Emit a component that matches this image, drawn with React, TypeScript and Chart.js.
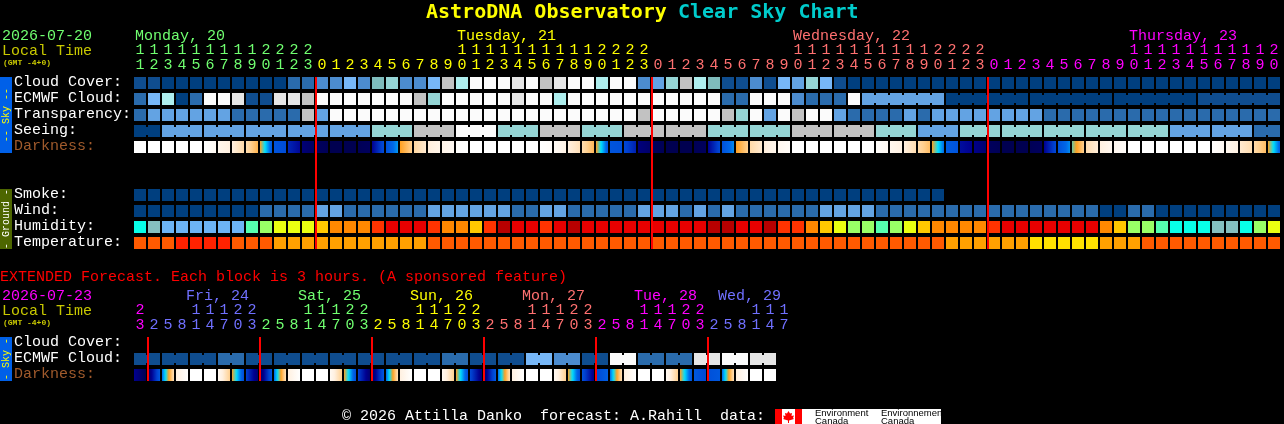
import { useEffect, useRef } from "react";
import { Chart, registerables } from "chart.js";

Chart.register(...registerables);

const hours = [
  11, 12, 13, 14, 15, 16, 17, 18, 19, 20, 21, 22, 23,
  0, 1, 2, 3, 4, 5, 6, 7, 8, 9, 10, 11, 12, 13, 14, 15, 16, 17, 18, 19, 20, 21, 22, 23,
  0, 1, 2, 3, 4, 5, 6, 7, 8, 9, 10, 11, 12, 13, 14, 15, 16, 17, 18, 19, 20, 21, 22, 23,
  0, 1, 2, 3, 4, 5, 6, 7, 8, 9, 10, 11, 12, 13, 14, 15, 16, 17, 18, 19, 20,
];
const extHours = [
  23, 2, 5, 8, 11, 14, 17, 20, 23, 2, 5, 8, 11, 14, 17, 20, 23, 2, 5, 8, 11, 14, 17, 20,
  23, 2, 5, 8, 11, 14, 17, 20, 23, 2, 5, 8, 11, 14, 17, 20, 23, 2, 5, 8, 11, 14, 17,
];

const midnights = [13, 37, 61];
const extMidnights = [1, 9, 17, 25, 33, 41];

const dayNames = ["Monday, 20", "Tuesday, 21", "Wednesday, 22", "Thursday, 23"];
const extDayNames = ["Fri, 24", "Sat, 25", "Sun, 26", "Mon, 27", "Tue, 28", "Wed, 29"];

const skyLabels = ["Cloud Cover:", "ECMWF Cloud:", "Transparency:", "Seeing:", "Darkness:"];
const groundLabels = ["Smoke:", "Wind:", "Humidity:", "Temperature:"];
const extLabels = ["Cloud Cover:", "ECMWF Cloud:", "Darkness:"];

// sky levels, index into skyPalette
const cloud = [
  1, 1, 0, 0, 0, 0, 0, 0, 0, 0, 0,
  2, 2, 3, 3, 5, 3, 6, 7, 3, 3, 5,
  9, 8, 11, 11, 11, 10, 11, 9, 10, 11, 11, 8, 11, 11, 3,
  4, 7, 9, 8, 6, 1, 1, 3, 1, 5, 4, 7, 5, 1, 0,
  0, 0, 0, 0, 0, 0, 0, 0, 0, 0, 0, 0, 0, 0, 0, 0, 0, 0, 0, 0, 0, 0, 0, 0, 0, 0, 0, 0, 0, 0,
];
const ecmwf = [
  2, 5, 8, 0, 2, 11, 11, 10, 1, 1, 10, 10, 9,
  11, 11, 11, 11, 11, 11, 11, 9, 7, 11, 11, 11, 11, 11, 10, 11, 11, 8,
  11, 11, 11, 11, 11, 11, 11, 11, 11, 11, 11, 2, 2, 11, 11, 11, 3, 2, 2, 2, 11,
  4, 4, 4, 4, 4, 4, 0, 0, 0, 0, 0, 0, 0, 0, 0, 0, 0, 0, 0, 0, 0, 0, 0, 0, 1, 1, 1, 1, 1, 1,
];
const transparency = [
  2, 4, 4, 4, 4, 4, 4, 2, 2, 2, 2, 2, 9, 4,
  11, 11, 11, 11, 11, 11, 11, 11, 11, 11, 11, 11, 11, 11, 11, 11, 11, 11, 11, 11, 11, 11,
  9, 11, 11, 11, 11, 11, 9, 7, 11, 4, 11, 9, 11, 11, 4, 2, 2, 2, 2, 4, 2,
  4, 4, 4, 4, 4, 4, 4, 4,
  2, 2, 2, 2, 2, 2, 2, 2, 2, 2, 2, 2, 2, 2, 2, 2, 2,
];
const seeing = [
  0, 0, 4, 4, 4, 4, 4, 4, 4, 4, 4, 4, 4, 4, 4, 4, 4, 7, 7, 7, 9, 9, 9, 11, 11, 11,
  7, 7, 7, 9, 9, 9, 7, 7, 7, 9, 9, 9, 9, 9, 9, 7, 7, 7, 7, 7, 7, 9, 9, 9, 9, 9, 9,
  7, 7, 7, 4, 4, 4, 7, 7, 7, 7, 7, 7, 7, 7, 7, 7, 7, 7, 7, 7, 7, 4, 4, 4, 4, 4, 4, 2, 2,
];
const smoke = [
  0, 0, 0, 0, 0, 0, 0, 0, 0, 0, 0, 0, 0, 0, 0, 0, 0, 0, 0, 0, 0, 0, 0, 0, 0, 0, 0, 0, 0,
  0, 0, 0, 0, 0, 0, 0, 0, 0, 0, 0, 0, 0, 0, 0, 0, 0, 0, 0, 0, 0, 0, 0, 0, 0, 0, 0, 0, 0,
];
const wind = [
  0, 0, 0, 0, 0, 0, 0, 0, 0, 2, 2, 2, 2, 4, 4, 2, 2, 2, 2, 2, 2,
  4, 4, 4, 4, 4, 4, 2, 2, 4, 4, 2, 2, 2, 2, 2, 4, 4, 4, 2, 4, 2, 4, 2, 2, 2, 2, 2, 2, 4, 4, 4,
  4, 2, 2, 2, 2, 2, 2, 2, 2, 2, 2, 2, 2, 2, 2, 2, 2, 0, 0, 2, 2, 0, 0, 0, 0, 0, 0, 0, 0, 0,
];
// index into humidityPalette
const humidity = [
  0, 1, 2, 2, 2, 2, 2, 2, 3, 4, 5, 5, 5, 6, 7, 7, 7, 8, 9, 9, 9,
  8, 7, 7, 6, 8, 10, 9, 9, 8, 9, 10, 9, 9, 9, 9, 9, 9, 9, 9, 9, 10, 10, 9, 9, 10, 8, 8, 7, 6, 5, 4,
  4, 3, 4, 5, 6, 7, 7, 7, 7, 8, 9, 9, 9, 9, 9, 9, 9, 7, 6, 4, 4, 3, 0, 0, 0, 1, 1, 0, 4, 5,
];
// index into temperaturePalette
const temperature = [
  0, 0, 0, 1, 1, 1, 1, 0, 0, 0, 2, 2, 2, 2, 2, 2, 2, 2, 2, 2, 2,
  0, 0, 0, 0, 0, 0, 0, 0, 0, 0, 0, 0, 0, 0, 0, 0, 0, 0, 0, 0, 0, 0, 0, 0, 0, 0, 0, 0, 0, 0, 0,
  0, 0, 0, 0, 0, 0, 2, 2, 2, 2, 2, 2, 3, 3, 3, 3, 3, 2, 2, 2, 0, 0, 0, 0, 0, 0, 0, 0, 0, 0,
];
// darkness level at left and right edge of a cell, 8 is daylight, 0 is full night
const darkness: [number, number][] = [
  [8, 8], [8, 8], [8, 8], [8, 8], [8, 8], [8, 7.6], [7.4, 7], [7, 6.3], [6.4, 5.4], [5, 2.6],
  [2.5, 2.3], [1.6, 1.1], [0.6, 0.3], [0.2, 0.1], [0, 0], [0, 0], [0.1, 0.2], [1, 2.3], [2.4, 3.4],
  [5, 6], [6.2, 6.8], [6.9, 7.3], [7.3, 7.6], [7.9, 8], [8, 8], [8, 8], [8, 8], [8, 8], [8, 8],
  [8, 7.8], [7.7, 7.2], [7, 6.5], [6.4, 5.5], [5, 2.6], [2.5, 2.4], [2.2, 1.5], [0.7, 0.4],
  [0.2, 0.1], [0, 0], [0, 0], [0.1, 0.2], [1, 2.2], [2.4, 3.3], [5, 6], [6.3, 6.8], [6.9, 7.4],
  [7.5, 7.8], [8, 8], [8, 8], [8, 8], [8, 8], [8, 8], [8, 8], [7.9, 7.6], [7.5, 7.1], [7, 6.4],
  [6.3, 5.6], [5, 3], [2.7, 2.5], [1.2, 1], [0.9, 0.5], [0.2, 0.1], [0, 0], [0, 0], [0.1, 0.2],
  [1, 2.2], [2.4, 3.3], [4.4, 6], [6.4, 6.9], [7, 7.5], [7.5, 7.8], [8, 8], [8, 8], [8, 8],
  [8, 8], [8, 8], [8, 8], [7.9, 7.6], [7.5, 7.1], [6.8, 6.4], [6.3, 5.6], [5, 2.8],
];
const extEcmwf = [
  1, 1, 1, 1, 1, 1, 2, 2, 1, 1, 1, 1, 1, 1, 1, 1, 1, 1, 1, 1, 1, 1, 2, 2,
  1, 1, 1, 1, 5, 5, 3, 3, 1, 1, 11, 11, 2, 2, 2, 2, 10, 10, 11, 11, 10, 10,
];
const extDarkness: [number, number][] = [
  [1, 0], [0.3, 2.6], [3, 6.5], [7, 8], [8, 8], [8, 8], [7.6, 6], [5, 2.3],
  [2, 0.5], [0.3, 2.6], [3, 6.5], [7, 8], [8, 8], [8, 8], [7.6, 6], [5, 2.3],
  [2, 0.5], [0.3, 2.6], [3, 6.5], [7, 8], [8, 8], [8, 8], [7.6, 6], [5, 2.3],
  [2.2, 0.6], [0.4, 2.7], [3, 6.5], [7, 8], [8, 8], [8, 8], [7.6, 6], [5, 2.3],
  [2.4, 0.8], [2.2, 2.8], [3, 6.5], [7, 8], [8, 8], [8, 8], [7.6, 6], [5, 2.4],
  [2.6, 2.2], [2.4, 2.6], [3, 6.5], [7, 8], [8, 8], [8, 8],
];

const skyPalette = [
  "#003f7f", "#0f4d8f", "#2a6bac", "#4c8ccf", "#63a3e3", "#77b7f7",
  "#7fbcbc", "#95d5d5", "#aeeeee", "#c2c2c2", "#e6e6e6", "#fbfbfb",
];
const humidityPalette = [
  "#08ffe8", "#85bfbf", "#6db4f5", "#55ffaf", "#99ff66", "#eaff11",
  "#ffc800", "#ff8800", "#ff3300", "#e80000", "#b80000",
];
const temperaturePalette = ["#ff5a00", "#ff2200", "#ffa000", "#ffe000"];
const darknessPalette = [
  [0, 0, 80], [0, 0, 144], [0, 64, 208], [0, 104, 232], [0, 224, 255],
  [255, 160, 32], [255, 208, 144], [255, 240, 224], [255, 255, 255],
];

const green = "#70ff70";
const yellow = "#ffff00";
const salmon = "#ff7070";
const magenta = "#ff00ff";
const blue = "#7070ff";
const dayColors = [green, yellow, salmon, magenta];
const extDayColors = [magenta, blue, green, yellow, salmon, magenta, blue];
const localTimeColor = "#c8c800";
const darknessLabelColor = "#a05a2c";

const FONT = '"Liberation Mono", monospace';

// one x unit is a 14px cell, one y unit is a 16px row
const CELL = 14;
const ROW = 16;
const xAt = (px: number) => (px - 140) / CELL;
const yAt = (px: number) => (px - 83) / ROW;

const skyRows = [0, 1, 2, 3, 4];
const groundRows = [7, 8, 9, 10];
const extRows = [16.25, 17.25, 18.25];
const labelRows = [...skyRows, ...groundRows, ...extRows];
const allLabels = [...skyLabels, ...groundLabels, ...extLabels];

const dayLabelCells = [0, 23, 47, 71];
const extDayLabelCells = [3.64, 11.64, 19.64, 27.64, 35.64, 41.64];

const cells = (values: unknown[], row: number) =>
  values.map((_, i) => ({ x: i, y: [row - 0.375, row + 0.375] }));

const levelBars = (values: number[], row: number, palette: string[]) => ({
  data: cells(values, row),
  backgroundColor: values.map((v) => palette[v]),
  barThickness: 12,
});

// small link between two cells of one forecast block
const joinBars = (values: number[], row: number, joined: (i: number) => boolean) => {
  const idx = values.map((_, i) => i).filter((i) => i + 1 < values.length && joined(i));
  return {
    data: idx.map((i) => ({ x: i + 0.5, y: [row - 0.25, row + 0.25] })),
    backgroundColor: idx.map((i) => skyPalette[values[i]]),
    barThickness: 2,
  };
};

const darknessColor = (level: number) => {
  const lo = Math.min(Math.floor(level), darknessPalette.length - 2);
  const t = level - lo;
  const c = darknessPalette[lo].map((v, k) => Math.round(v + (darknessPalette[lo + 1][k] - v) * t));
  return `rgb(${c[0]},${c[1]},${c[2]})`;
};

const darknessBars = (values: [number, number][], row: number) => ({
  data: cells(values, row),
  barThickness: 12,
  backgroundColor: (c: any) => {
    const pair = values[c.dataIndex];
    const left = c.chart.scales.x.getPixelForValue(c.dataIndex) - 6;
    // the first resolve happens before the layout, when the scale has no pixels yet
    if (!pair || !Number.isFinite(left)) return "#000";
    const g = c.chart.ctx.createLinearGradient(left, 0, left + 12, 0);
    for (let k = 0; k <= 12; k++) {
      g.addColorStop(k / 12, darknessColor(pair[0] + ((pair[1] - pair[0]) * k) / 12));
    }
    return g;
  },
});

const nightLines = (marks: number[], from: number, to: number) => ({
  data: marks.map((m) => ({ x: m - 3 / 7, y: [from, to] })),
  backgroundColor: "#ff0000",
  barThickness: 2,
});

const colorForCell = (i: number, marks: number[], colors: string[]) =>
  colors[marks.filter((m) => m <= i).length];

// label axes sit on top of the plot, they must not take room from it
const takeNoRoom = (axis: any) => {
  if (axis.isHorizontal()) axis.height = 0;
  else axis.width = 0;
  axis.paddingLeft = axis.paddingRight = axis.paddingTop = axis.paddingBottom = 0;
};

const hourAxis = (values: number[], marks: number[], colors: string[], top: number) => ({
  type: "linear",
  axis: "x",
  position: { y: yAt(top) },
  min: xAt(0),
  max: xAt(1284),
  offset: false,
  grid: { display: false, drawTicks: false },
  border: { display: false },
  afterFit: takeNoRoom,
  afterBuildTicks: (axis: any) => {
    axis.ticks = values.map((_, i) => ({ value: i }));
  },
  ticks: {
    autoSkip: false,
    maxRotation: 0,
    minRotation: 0,
    padding: 0,
    font: { family: FONT, size: 15, lineHeight: 1 },
    color: (c: any) => colorForCell(c.index, marks, colors),
    callback: (_: unknown, i: number) => {
      const h = values[i];
      return [h >= 10 ? String(Math.floor(h / 10)) : " ", String(h % 10)];
    },
  },
});

const sideBar = (
  ctx: CanvasRenderingContext2D,
  top: number,
  bottom: number,
  fill: string,
  ink: string,
  text: string
) => {
  ctx.fillStyle = fill;
  ctx.fillRect(0, top, 12, bottom - top);
  ctx.save();
  ctx.translate(6, (top + bottom) / 2);
  ctx.rotate(-Math.PI / 2);
  ctx.fillStyle = ink;
  ctx.font = `10px ${FONT}`;
  ctx.textAlign = "center";
  ctx.textBaseline = "middle";
  ctx.fillText(text, 0, 0);
  ctx.restore();
};

const put = (
  ctx: CanvasRenderingContext2D,
  text: string,
  x: number,
  y: number,
  color: string,
  font = `15px ${FONT}`
) => {
  ctx.fillStyle = color;
  ctx.font = font;
  ctx.fillText(text, x, y);
};

const envCanadaLogo = (ctx: CanvasRenderingContext2D) => {
  ctx.fillStyle = "#ffffff";
  ctx.fillRect(775, 409, 166, 15);
  ctx.fillStyle = "#ff0000";
  ctx.fillRect(775, 409, 7, 15);
  ctx.fillRect(795, 409, 7, 15);
  ctx.beginPath();
  [
    [788.5, 411], [790, 413.5], [792, 413], [791.5, 416], [794, 415.5], [793, 418], [794, 419],
    [789, 420.5], [789, 423], [788, 423], [788, 420.5], [783, 419], [784, 418], [783, 415.5],
    [785.5, 416], [785, 413], [787, 413.5],
  ].forEach(([x, y]) => ctx.lineTo(x, y));
  ctx.closePath();
  ctx.fill();
  const logoFont = '9.5px "Liberation Sans", sans-serif';
  put(ctx, "Environment", 815, 416, "#000000", logoFont);
  put(ctx, "Canada", 815, 424, "#000000", logoFont);
  put(ctx, "Environnement", 881, 416, "#000000", logoFont);
  put(ctx, "Canada", 881, 424, "#000000", logoFont);
};

const textPlugin = {
  id: "chartText",
  afterDraw(chart: any) {
    const ctx: CanvasRenderingContext2D = chart.ctx;
    const xs = chart.scales.x;
    const small = `bold 8px ${FONT}`;
    ctx.save();
    ctx.textAlign = "left";
    ctx.textBaseline = "alphabetic";

    const titleFont = 'bold 20px "DejaVu Sans Mono", monospace';
    put(ctx, "AstroDNA Observatory", 426, 18, yellow, titleFont);
    put(ctx, "Clear Sky Chart", 678, 18, "#00cccc", titleFont);

    put(ctx, "2026-07-20", 2, 40, green);
    put(ctx, "Local Time", 2, 55, localTimeColor);
    put(ctx, "(GMT -4+0)", 3, 65, localTimeColor, small);
    dayNames.forEach((name, i) => {
      put(ctx, name, xs.getPixelForValue(dayLabelCells[i]) - 5, 40, dayColors[i]);
    });

    put(ctx, "EXTENDED Forecast. Each block is 3 hours. (A sponsored feature)", 0, 281, "#ff0000");
    put(ctx, "2026-07-23", 2, 300, magenta);
    put(ctx, "Local Time", 2, 315, localTimeColor);
    put(ctx, "(GMT -4+0)", 3, 325, localTimeColor, small);
    extDayNames.forEach((name, i) => {
      put(ctx, name, xs.getPixelForValue(extDayLabelCells[i]) - 5, 300, extDayColors[i + 1]);
    });

    put(ctx, "© 2026 Attilla Danko  forecast: A.Rahill  data:", 342, 420, "#ffffff");
    envCanadaLogo(ctx);

    sideBar(ctx, 77, 153, "#0060e8", yellow, "-- Sky --");
    sideBar(ctx, 189, 249, "#4d6600", "#ffffff", "- Ground -");
    sideBar(ctx, 337, 381, "#0060e8", yellow, "- Sky -");
    ctx.restore();
  },
};

export default function App() {
  const ref = useRef<HTMLCanvasElement>(null);

  useEffect(() => {
    document.body.style.margin = "0";
    document.body.style.background = "#000";

    const chart = new Chart(ref.current!, {
      type: "bar",
      plugins: [textPlugin],
      data: {
        datasets: [
          nightLines(midnights, -0.375, 10.375),
          nightLines(extMidnights, 15.875, 18.625),
          levelBars(cloud, 0, skyPalette),
          levelBars(ecmwf, 1, skyPalette),
          joinBars(ecmwf, 1, (i) => i >= 52 && (i + 1 - 52) % 6 !== 0),
          levelBars(transparency, 2, skyPalette),
          levelBars(seeing, 3, skyPalette),
          joinBars(seeing, 3, (i) => (i + 1 - 2) % 3 !== 0),
          darknessBars(darkness, 4),
          levelBars(smoke, 7, skyPalette),
          levelBars(wind, 8, skyPalette),
          levelBars(humidity, 9, humidityPalette),
          levelBars(temperature, 10, temperaturePalette),
          levelBars(extEcmwf, 17.25, skyPalette),
          joinBars(extEcmwf, 17.25, (i) => (i + 1) % 2 !== 0),
          darknessBars(extDarkness, 18.25),
        ] as any,
      },
      options: {
        animation: false,
        responsive: false,
        devicePixelRatio: 1,
        events: [],
        layout: { padding: 0 },
        datasets: { bar: { grouped: false, inflateAmount: 0, borderWidth: 0 } },
        plugins: { legend: { display: false }, tooltip: { enabled: false } },
        scales: {
          x: { type: "linear", display: false, offset: false, min: xAt(0), max: xAt(1284) },
          y: { type: "linear", display: false, reverse: true, min: yAt(0), max: yAt(424) },
          xHours: hourAxis(hours, midnights, dayColors, 43),
          xExtHours: hourAxis(extHours, extMidnights, extDayColors, 303),
          yLabels: {
            type: "linear",
            axis: "y",
            position: "left",
            reverse: true,
            min: yAt(0),
            max: yAt(424),
            grid: { display: false, drawTicks: false },
            border: { display: false },
            afterFit: takeNoRoom,
            afterBuildTicks: (axis: any) => {
              axis.ticks = labelRows.map((value) => ({ value }));
            },
            ticks: {
              autoSkip: false,
              mirror: true,
              padding: 14,
              labelOffset: -1,
              font: { family: FONT, size: 15 },
              color: (c: any) =>
                allLabels[c.index] === "Darkness:" ? darknessLabelColor : "#ffffff",
              callback: (_: unknown, i: number) => allLabels[i],
            },
          },
        } as any,
      },
    });

    return () => {
      chart.destroy();
    };
  }, []);

  return (
    <canvas
      ref={ref}
      width={1284}
      height={424}
      style={{ display: "block", width: 1284, height: 424, background: "#000" }}
    />
  );
}
